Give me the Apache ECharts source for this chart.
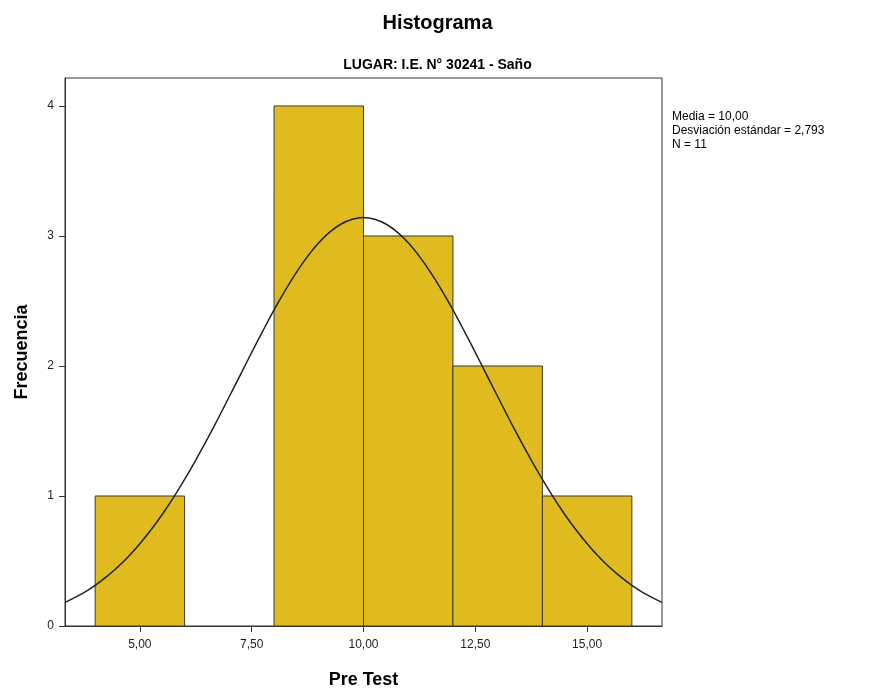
<!DOCTYPE html>
<html><head><meta charset="utf-8">
<script src="https://cdn.jsdelivr.net/npm/echarts@6/dist/echarts.min.js"></script>
<style>html,body{margin:0;padding:0;background:#fff}#c{width:875px;height:691px}</style>
</head><body><div id="c"></div>
<script>
// Histogram bins: [start, end, frequency]
const binStarts = [4, 8, 10, 12, 14];
const binEnds = [6, 10, 12, 14, 16];
const frequencies = [1, 4, 3, 2, 1];
// Normal curve points
const curveX = [3.33, 3.75, 4, 4.25, 4.5, 4.75, 5, 5.25, 5.5, 5.75, 6, 6.25, 6.5, 6.75, 7, 7.25, 7.5, 7.75, 8, 8.25, 8.5, 8.75, 9, 9.25, 9.5, 9.75,
  10, 10.25, 10.5, 10.75, 11, 11.25, 11.5, 11.75, 12, 12.25, 12.5, 12.75, 13, 13.25, 13.5, 13.75, 14, 14.25, 14.5, 14.75, 15, 15.25, 15.5, 15.75, 16, 16.25, 16.67];
const curveY = [0.182, 0.257, 0.313, 0.378, 0.452, 0.537, 0.633, 0.740, 0.858, 0.987, 1.127, 1.276, 1.433, 1.596, 1.765, 1.934, 2.104, 2.270, 2.432, 2.582, 2.720, 2.843, 2.947, 3.031, 3.092, 3.129,
  3.142, 3.129, 3.092, 3.031, 2.947, 2.843, 2.720, 2.582, 2.432, 2.270, 2.104, 1.934, 1.765, 1.596, 1.433, 1.276, 1.127, 0.987, 0.858, 0.740, 0.633, 0.537, 0.452, 0.378, 0.313, 0.257, 0.182];
const xTicks = [5, 7.5, 10, 12.5, 15];
const yTicks = [0, 1, 2, 3, 4];
const statsLines = ['Media = 10,00', 'Desviación estándar = 2,793', 'N = 11'];

const chart = echarts.init(document.getElementById('c'));
const font = '"Liberation Sans", Arial, sans-serif';
const binData = binStarts.map((s, i) => [s, binEnds[i], frequencies[i]]);
const curveData = curveX.map((x, i) => [x, curveY[i]]);

chart.setOption({
  backgroundColor: '#fff',
  animation: false,
  title: [
    { text: 'Histograma', left: 'center', top: 8, textStyle: { fontFamily: font, fontSize: 20, fontWeight: 'bold', color: '#000' } },
    { text: 'LUGAR: I.E. N° 30241 - Saño', left: 'center', top: 53, textStyle: { fontFamily: font, fontSize: 14, fontWeight: 'bold', color: '#000' } }
  ],
  grid: { left: 65, right: 213, top: 78, bottom: 65, outerBoundsMode: 'none', containLabel: false, show: true, borderColor: '#333', borderWidth: 1, backgroundColor: 'transparent' },
  xAxis: {
    type: 'value', min: 3.326, max: 16.674,
    name: 'Pre Test', nameLocation: 'middle', nameGap: 45,
    nameTextStyle: { fontFamily: font, fontSize: 18, fontWeight: 'bold', color: '#000' },
    axisLine: { show: true, onZero: false, lineStyle: { color: '#333' } },
    axisTick: { show: true, length: 6, customValues: xTicks, lineStyle: { color: '#333' } },
    axisLabel: { customValues: xTicks, formatter: v => v.toFixed(2).replace('.', ','), fontFamily: font, fontSize: 12, color: '#222', margin: 13 },
    splitLine: { show: false }
  },
  yAxis: {
    type: 'value', min: 0, max: 4.215,
    name: 'Frecuencia', nameLocation: 'middle', nameGap: 34,
    nameTextStyle: { fontFamily: font, fontSize: 18, fontWeight: 'bold', color: '#000' },
    axisLine: { show: true, onZero: false, lineStyle: { color: '#333' } },
    axisTick: { show: true, length: 6, customValues: yTicks, lineStyle: { color: '#333' } },
    axisLabel: { customValues: yTicks, fontFamily: font, fontSize: 12, color: '#222', margin: 11 },
    splitLine: { show: false }
  },
  graphic: [{
    type: 'text', left: 672, top: 110,
    style: { text: statsLines.join('\n'), font: '12px "Liberation Sans", Arial, sans-serif', fill: '#000', lineHeight: 14 }
  }],
  series: [
    {
      type: 'custom',
      data: binData,
      encode: { x: [0, 1], y: 2 },
      renderItem: function (params, api) {
        const p0 = api.coord([api.value(0), api.value(2)]);
        const p1 = api.coord([api.value(1), 0]);
        return {
          type: 'rect',
          shape: { x: p0[0], y: p0[1], width: p1[0] - p0[0], height: p1[1] - p0[1] },
          style: { fill: '#DFBB1F', stroke: '#3a3a3a', lineWidth: 1 }
        };
      },
      z: 2
    },
    {
      type: 'line', data: curveData, smooth: 0.3, showSymbol: false,
      lineStyle: { color: '#222', width: 1.5 }, z: 3
    }
  ]
});
</script></body></html>
